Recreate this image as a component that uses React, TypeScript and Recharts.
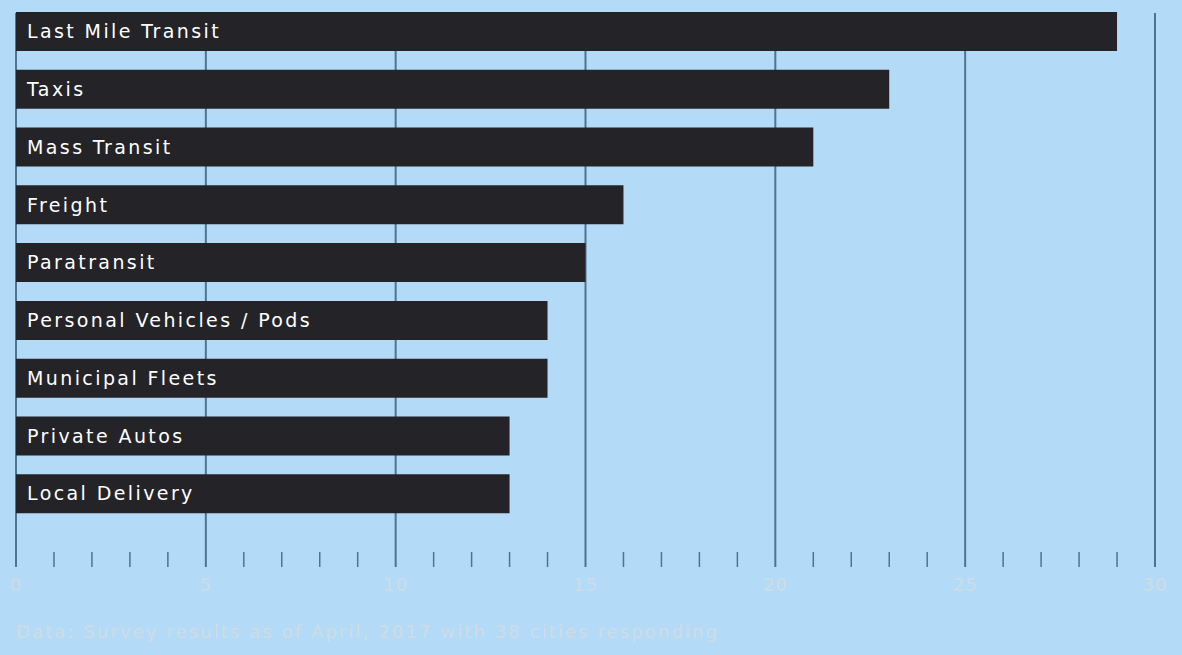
import React from "react";
import { BarChart, Bar, XAxis, YAxis, CartesianGrid, LabelList } from "recharts";

const categories = [
  "Last Mile Transit",
  "Taxis",
  "Mass Transit",
  "Freight",
  "Paratransit",
  "Personal Vehicles / Pods",
  "Municipal Fleets",
  "Private Autos",
  "Local Delivery",
];
const cityCounts = [29, 23, 21, 16, 15, 14, 14, 13, 13];
const xTicks = Array.from({ length: 31 }, (_, i) => i);
const footnote = "Data: Survey results as of April, 2017 with 38 cities responding";

const data = categories.map((name, i) => ({ name, value: cityCounts[i] }));

const BG = "#b3dbf7";
const GRID = "#4d7593";
const BAR = "#242428";
const PALE = "#cfdbe4";
const FONT = "'DejaVu Sans', sans-serif";

// plot area spans y 3..523; grid lines are stretched past it to match the print layout
function GridLine(props: any) {
  const { x1, y1, y2, index } = props;
  const major = index % 5 === 0;
  return (
    <line
      x1={x1}
      x2={x1}
      y1={major ? y1 + 10 : y2 + 29}
      y2={y2 + 44}
      stroke={GRID}
      strokeWidth={major ? 2 : 1.5}
    />
  );
}

function TickLabel(props: any) {
  const { x, y, payload } = props;
  if (payload.value % 5 !== 0) return null;
  return (
    <text
      x={x}
      y={y + 68}
      textAnchor="middle"
      fill={PALE}
      fontSize={18}
      fontFamily={FONT}
      letterSpacing={1}
    >
      {payload.value}
    </text>
  );
}

export default function App() {
  return (
    <div style={{ position: "fixed", left: 0, top: 0, width: 1182, height: 655, background: BG, overflow: "hidden" }}>
      <BarChart
        width={1182}
        height={655}
        data={data}
        layout="vertical"
        margin={{ top: 3, right: 27, left: 16, bottom: 72 }}
      >
        <CartesianGrid horizontal={false} vertical={<GridLine />} />
        <XAxis
          type="number"
          domain={[0, 30]}
          ticks={xTicks}
          interval={0}
          axisLine={false}
          tickLine={false}
          tickSize={0}
          tickMargin={0}
          height={60}
          tick={<TickLabel />}
        />
        <YAxis type="category" dataKey="name" hide />
        <Bar dataKey="value" fill={BAR} barSize={39} isAnimationActive={false}>
          <LabelList
            dataKey="name"
            position="insideLeft"
            offset={11}
            fill="#ffffff"
            fontSize={19}
            fontFamily={FONT}
            letterSpacing={2.4}
          />
        </Bar>
      </BarChart>
      <div
        style={{
          position: "absolute",
          left: 16,
          top: 621,
          fontFamily: FONT,
          fontSize: 18,
          letterSpacing: 2.1,
          color: PALE,
        }}
      >
        {footnote}
      </div>
    </div>
  );
}
